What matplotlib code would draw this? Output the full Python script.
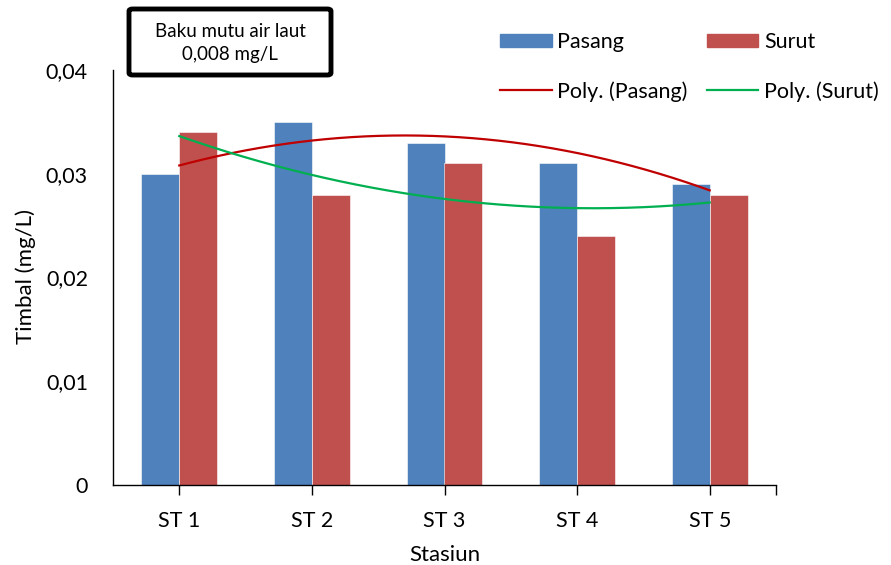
import numpy as np
import matplotlib
matplotlib.use("Agg")
import matplotlib.pyplot as plt
from matplotlib.patches import Patch, FancyBboxPatch
from matplotlib.lines import Line2D
from matplotlib.ticker import FuncFormatter

plt.rcParams['font.family'] = ['Lato', 'DejaVu Sans']

stations = ["ST 1", "ST 2", "ST 3", "ST 4", "ST 5"]
pasang = [0.030, 0.035, 0.033, 0.031, 0.029]
surut = [0.034, 0.028, 0.031, 0.024, 0.028]
y_ticks = [0, 0.01, 0.02, 0.03, 0.04]

c_pasang = "#4F81BD"
c_surut = "#C0504D"
c_poly_pasang = "#C00000"
c_poly_surut = "#00B050"

fig = plt.figure(figsize=(8.91, 5.65), dpi=100)
ax = fig.add_axes([113 / 891, 1 - 485 / 565, 663 / 891, 415 / 565])

x = np.arange(len(stations))
w = 0.286
ax.bar(x - w / 2, pasang, width=w, color=c_pasang, edgecolor="white", linewidth=0.4)
ax.bar(x + w / 2, surut, width=w, color=c_surut, edgecolor="white", linewidth=0.4)

# second-order polynomial trendlines over station index 1..5
xs = np.linspace(0, len(stations) - 1, 200)
for vals, col in ((pasang, c_poly_pasang), (surut, c_poly_surut)):
    coef = np.polyfit(x + 1, vals, 2)
    ax.plot(xs, np.polyval(coef, xs + 1), color=col, lw=1.6)

ax.set_xlim(-0.5, len(stations) - 0.5)
ax.set_ylim(0, 0.04)
ax.set_yticks(y_ticks)
ax.yaxis.set_major_formatter(FuncFormatter(lambda v, p: "0" if v == 0 else f"{v:.2f}".replace(".", ",")))
ax.tick_params(axis="y", length=0, labelsize=15.5, pad=18)
ax.set_xticks(list(x) + [len(stations) - 0.5])
ax.set_xticklabels(stations + [""])
ax.tick_params(axis="x", length=7, width=1, labelsize=15.5, pad=12)
for s in ("top", "right"):
    ax.spines[s].set_visible(False)
for s in ("left", "bottom"):
    ax.spines[s].set_linewidth(1.0)

fig.text(26 / 891, 1 - 277 / 565, "Timbal (mg/L)", rotation=90, ha="center", va="center", fontsize=16)
ax.set_xlabel("Stasiun", fontsize=16, labelpad=10)

handles = [
    Patch(color=c_pasang), Line2D([], [], color=c_poly_pasang, lw=1.6),
    Patch(color=c_surut), Line2D([], [], color=c_poly_surut, lw=1.6),
]
labels = ["Pasang", "Poly. (Pasang)", "Surut", "Poly. (Surut)"]
fig.legend(handles, labels, ncol=2, loc="upper left", bbox_to_anchor=(500 / 891, 1 - 32 / 565),
           frameon=False, fontsize=15.5, handlelength=2.4, handleheight=0.6, handletextpad=0.25,
           columnspacing=0.9, labelspacing=1.35, borderaxespad=0, borderpad=0)

box = FancyBboxPatch((129 / 891, 1 - 75 / 565), 202 / 891, 66 / 565,
                     boxstyle="round,pad=0,rounding_size=0.004", transform=fig.transFigure,
                     facecolor="white", edgecolor="black", linewidth=3.5)
fig.patches.append(box)
fig.text(230 / 891, 1 - 43 / 565, "Baku mutu air laut\n0,008 mg/L", ha="center", va="center",
         fontsize=13.5, linespacing=1.45)

fig.savefig("out.png", dpi=100)
